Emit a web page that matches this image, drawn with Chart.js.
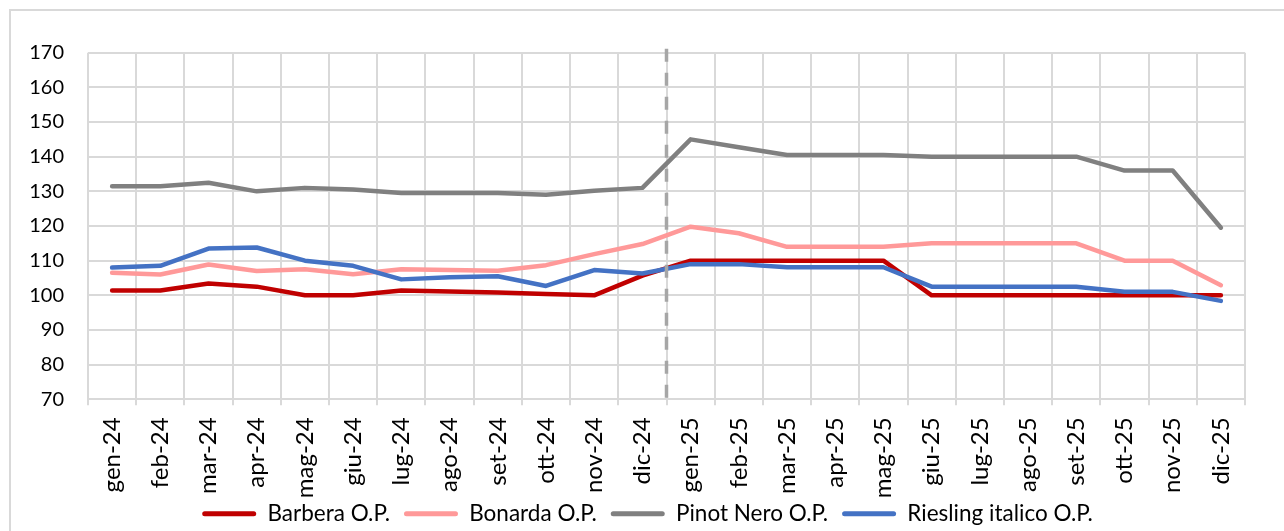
<!DOCTYPE html>
<html>
<head>
<meta charset="utf-8">
<script src="https://cdn.jsdelivr.net/npm/chart.js@4.4.1/dist/chart.umd.min.js"></script>
<style>
  html, body { margin: 0; padding: 0; background: #ffffff; }
  #wrap { width: 1284px; height: 531px; }
</style>
</head>
<body>
<div id="wrap"><canvas id="c" width="1284" height="531"></canvas></div>
<script>
// Monthly categories
const months = [
  'gen-24','feb-24','mar-24','apr-24','mag-24','giu-24','lug-24','ago-24','set-24','ott-24','nov-24','dic-24',
  'gen-25','feb-25','mar-25','apr-25','mag-25','giu-25','lug-25','ago-25','set-25','ott-25','nov-25','dic-25'
];

// Series values (€/q)
const barbera  = [101.4,101.4,103.4,102.5,100,100,101.4,101.1,100.8,100.4,100,105.7,110,110,110,110,110,100,100,100,100,100,100,100];
const bonarda  = [106.5,106,108.9,107,107.5,106.1,107.5,107.3,107.1,108.7,111.9,114.8,119.8,117.9,114,114,114,115,115,115,115,110,110,102.9];
const pinotNero = [131.5,131.5,132.5,130,131,130.5,129.5,129.5,129.5,129,130.2,131,145,142.7,140.5,140.5,140.5,140,140,140,140,136,136,119.5];
const riesling = [108,108.5,113.5,113.8,110,108.5,104.6,105.2,105.5,102.7,107.3,106.3,109,109,108.1,108.1,108.1,102.5,102.5,102.5,102.5,101,101,98.4];

// Series names and y-axis range
const seriesNames = ['Barbera O.P.', 'Bonarda O.P.', 'Pinot Nero O.P.', 'Riesling italico O.P.'];
const yMin = 70, yMax = 170, yStep = 10;
// Year boundary: between the last 2024 month and the first 2025 month
const splitAfter = 'dic-24';

const colors = ['#c00000', '#ff9999', '#808080', '#4472c4'];
const FONT = 'Lato, "Open Sans", sans-serif';
const GRID = '#d9d9d9';

const seriesData = [barbera, bonarda, pinotNero, riesling];
const datasets = seriesData.map((d, i) => ({
  label: seriesNames[i],
  data: d,
  borderColor: colors[i],
  backgroundColor: colors[i],
  borderWidth: 4.5,
  borderCapStyle: 'round',
  borderJoinStyle: 'round',
  pointRadius: 0,
  pointHoverRadius: 0,
  tension: 0,
  fill: false,
  order: seriesData.length - i   // later series drawn on top
}));

// White background and frame lines
const framePlugin = {
  id: 'frame',
  beforeDraw(chart) {
    const ctx = chart.ctx;
    ctx.save();
    ctx.fillStyle = '#ffffff';
    ctx.fillRect(0, 0, chart.width, chart.height);
    ctx.strokeStyle = GRID;
    ctx.lineWidth = 2;
    ctx.beginPath();
    ctx.moveTo(10, chart.height);
    ctx.lineTo(10, 10);
    ctx.lineTo(chart.width, 10);
    ctx.stroke();
    ctx.restore();
  }
};

// Let the long rotated month labels run down next to the legend,
// and move the legend row slightly lower and to the right
const legendShiftY = 4;
const legendShiftX = 25;
const bottomPlugin = {
  id: 'bottomArea',
  afterLayout(chart) {
    chart.scales.x.bottom = chart.height;
    if (chart.legend) {
      chart.legend.top += legendShiftY;
      chart.legend.bottom += legendShiftY;
      chart.legend.left += legendShiftX;
      chart.legend.right += legendShiftX;
    }
  }
};

// Dashed vertical separator between the two years
const splitPlugin = {
  id: 'yearSplit',
  afterDatasetsDraw(chart) {
    const x = chart.scales.x;
    const idx = months.indexOf(splitAfter);
    const px = (x.getPixelForValue(idx) + x.getPixelForValue(idx + 1)) / 2;
    const area = chart.chartArea;
    const ctx = chart.ctx;
    ctx.save();
    ctx.strokeStyle = '#a6a6a6';
    ctx.lineWidth = 3.5;
    ctx.setLineDash([13, 11]);
    ctx.beginPath();
    ctx.moveTo(px, area.top - 4);
    ctx.lineTo(px, area.bottom + 6);
    ctx.stroke();
    ctx.restore();
  }
};

new Chart(document.getElementById('c'), {
  type: 'line',
  data: { labels: months, datasets },
  plugins: [framePlugin, bottomPlugin, splitPlugin],
  options: {
    responsive: false,
    animation: false,
    events: [],
    layout: { padding: { left: 0, right: 39, top: 52.7, bottom: 0 } },
    plugins: {
      title: { display: false },
      tooltip: { enabled: false },
      legend: {
        position: 'bottom',
        align: 'center',
        labels: {
          color: '#000000',
          font: { family: FONT, size: 22.5 },
          boxWidth: 54,
          boxHeight: 5,
          padding: 14,
          useBorderRadius: true,
          borderRadius: 2.5,
          generateLabels(chart) {
            return chart.data.datasets.map((ds, i) => ({
              text: ds.label,
              fillStyle: ds.borderColor,
              strokeStyle: ds.borderColor,
              lineWidth: 0,
              hidden: false,
              datasetIndex: i,
              borderRadius: 2.5
            }));
          }
        }
      }
    },
    scales: {
      x: {
        type: 'category',
        offset: true,
        grid: {
          offset: true,
          color: GRID,
          lineWidth: 2,
          drawTicks: true,
          tickLength: 6,
          tickColor: GRID
        },
        border: { display: true, color: GRID, width: 2 },
        ticks: {
          color: '#000000',
          font: { family: FONT, size: 24 },
          minRotation: 90,
          maxRotation: 90,
          autoSkip: false,
          padding: 12
        },
        afterFit(scale) {
          const lh = scale.chart.legend ? scale.chart.legend.height : 0;
          scale.height = 531 - 399.3 - lh;
        }
      },
      y: {
        min: yMin,
        max: yMax,
        grid: { color: GRID, lineWidth: 2, drawTicks: false },
        border: { display: false },
        ticks: {
          stepSize: yStep,
          color: '#000000',
          font: { family: FONT, size: 20 },
          padding: 24
        },
        afterFit(scale) { scale.width = 88; }
      }
    }
  }
});
</script>
</body>
</html>
